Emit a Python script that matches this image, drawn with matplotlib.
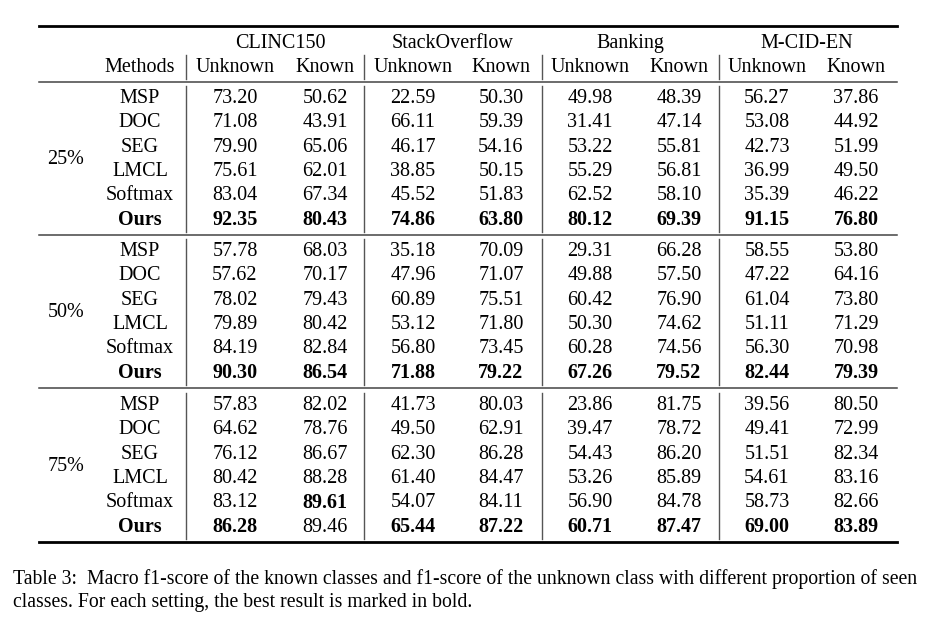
import numpy as np
import matplotlib.pyplot as plt

plt.rcParams['font.family'] = ['Liberation Serif', 'DejaVu Serif']

datasets = ['CLINC150', 'StackOverflow', 'Banking', 'M-CID-EN']
settings = ['25%', '50%', '75%']
methods = ['MSP', 'DOC', 'SEG', 'LMCL', 'Softmax', 'Ours']

# rows = methods, columns = (Unknown, Known) per dataset
scores_25 = [
    ['73.20', '50.62', '22.59', '50.30', '49.98', '48.39', '56.27', '37.86'],
    ['71.08', '43.91', '66.11', '59.39', '31.41', '47.14', '53.08', '44.92'],
    ['79.90', '65.06', '46.17', '54.16', '53.22', '55.81', '42.73', '51.99'],
    ['75.61', '62.01', '38.85', '50.15', '55.29', '56.81', '36.99', '49.50'],
    ['83.04', '67.34', '45.52', '51.83', '62.52', '58.10', '35.39', '46.22'],
    ['92.35', '80.43', '74.86', '63.80', '80.12', '69.39', '91.15', '76.80'],
]
scores_50 = [
    ['57.78', '68.03', '35.18', '70.09', '29.31', '66.28', '58.55', '53.80'],
    ['57.62', '70.17', '47.96', '71.07', '49.88', '57.50', '47.22', '64.16'],
    ['78.02', '79.43', '60.89', '75.51', '60.42', '76.90', '61.04', '73.80'],
    ['79.89', '80.42', '53.12', '71.80', '50.30', '74.62', '51.11', '71.29'],
    ['84.19', '82.84', '56.80', '73.45', '60.28', '74.56', '56.30', '70.98'],
    ['90.30', '86.54', '71.88', '79.22', '67.26', '79.52', '82.44', '79.39'],
]
scores_75 = [
    ['57.83', '82.02', '41.73', '80.03', '23.86', '81.75', '39.56', '80.50'],
    ['64.62', '78.76', '49.50', '62.91', '39.47', '78.72', '49.41', '72.99'],
    ['76.12', '86.67', '62.30', '86.28', '54.43', '86.20', '51.51', '82.34'],
    ['80.42', '88.28', '61.40', '84.47', '53.26', '85.89', '54.61', '83.16'],
    ['83.12', '89.61', '54.07', '84.11', '56.90', '84.78', '58.73', '82.66'],
    ['86.28', '89.46', '65.44', '87.22', '60.71', '87.47', '69.00', '83.89'],
]
blocks = [scores_25, scores_50, scores_75]

caption = ['Table 3:  Macro f1-score of the known classes and f1-score of the unknown class with different proportion of seen',
           'classes. For each setting, the best result is marked in bold.']

W, H = 937, 619
fig = plt.figure(figsize=(W / 100, H / 100), dpi=100)
ax = fig.add_axes([0, 0, 1, 1])
ax.set_xlim(0, W)
ax.set_ylim(H, 0)
ax.axis('off')

fs = 14.5
col_x = [235, 325, 413, 501, 590, 679, 767, 856]
head_x = [280, 453, 630, 807]
vlines_x = [186, 364, 542, 719]
x_left, x_right = 39, 897
dy = 1.5  # text baseline nudge

# rules
ax.plot([x_left, x_right], [26, 26], color='black', lw=2.0)
ax.plot([x_left, x_right], [82, 82], color='#444444', lw=1.1)
ax.plot([x_left, x_right], [235, 235], color='#444444', lw=1.1)
ax.plot([x_left, x_right], [388, 388], color='#444444', lw=1.1)
ax.plot([x_left, x_right], [542, 542], color='black', lw=2.0)

# header
for name, x in zip(datasets, head_x):
    ax.text(x, 42 + dy, name, ha='center', va='center', fontsize=fs)
ax.text(140, 66 + dy, 'Methods', ha='center', va='center', fontsize=fs)
for i, x in enumerate(col_x):
    ax.text(x, 66 + dy, 'Unknown' if i % 2 == 0 else 'Known', ha='center', va='center', fontsize=fs)
for x in vlines_x:
    ax.plot([x, x], [55, 79], color='#555555', lw=1.0)

# body
block_top = [97, 250, 404]
step = 24.3
for b, rows in enumerate(blocks):
    y0 = block_top[b]
    ys = [y0 + k * step + dy for k in range(len(methods))]
    ax.text(66, np.mean(ys), settings[b], ha='center', va='center', fontsize=fs)
    for x in vlines_x:
        ax.plot([x, x], [y0 - 11, y0 + 5 * step + 13], color='#555555', lw=1.0)
    vals = np.array(rows, dtype=float)
    best = vals.max(axis=0)
    for r, m in enumerate(methods):
        ax.text(140, ys[r], m, ha='center', va='center', fontsize=fs,
                fontweight='bold' if m == 'Ours' else 'normal')
        for c, x in enumerate(col_x):
            ax.text(x, ys[r], rows[r][c], ha='center', va='center', fontsize=fs,
                    fontweight='bold' if vals[r, c] == best[c] else 'normal')

# caption
ax.text(13, 579, caption[0], ha='left', va='center', fontsize=14.2)
ax.text(13, 603, caption[1], ha='left', va='center', fontsize=14.2)

fig.savefig('out.png', dpi=100, facecolor='white')
